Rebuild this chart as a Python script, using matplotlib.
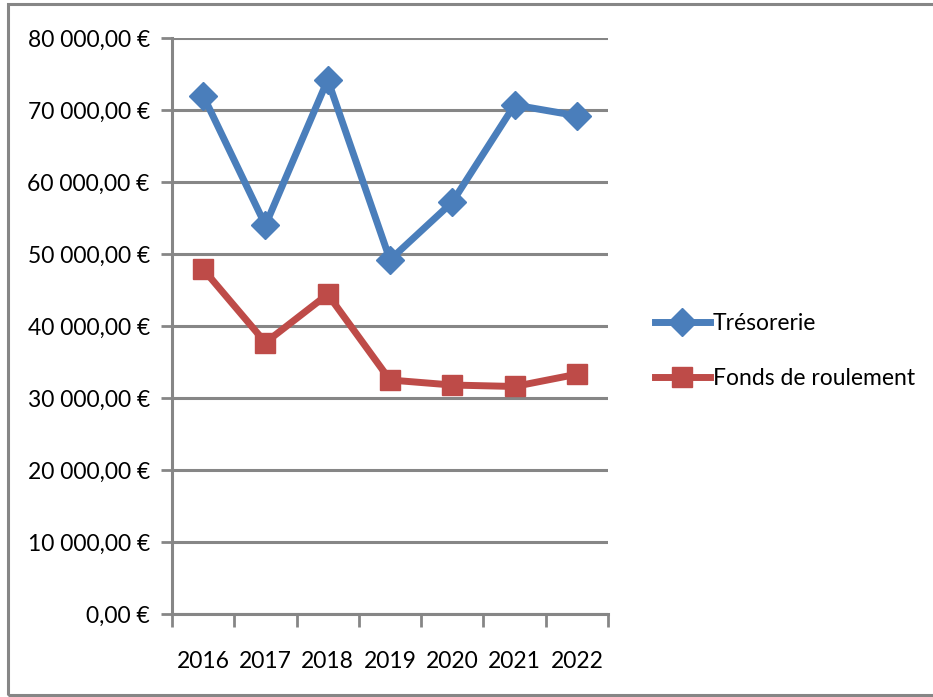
import matplotlib.pyplot as plt
from matplotlib.patches import Rectangle

annees = ["2016", "2017", "2018", "2019", "2020", "2021", "2022"]
tresorerie = [72000, 54000, 74200, 49200, 57200, 70700, 69200]
fonds_roulement = [47900, 37700, 44400, 32500, 31800, 31600, 33300]
yticks = [0, 10000, 20000, 30000, 40000, 50000, 60000, 70000, 80000]

plt.rcParams["font.family"] = ["Lato", "DejaVu Sans"]
taille = 16.5

def euro(v):
    s = f"{v:,.2f}".replace(",", " ").replace(".", ",")
    return s + " €"

fig = plt.figure(figsize=(9.33, 6.97), dpi=100)
ax = fig.add_axes([172 / 933, 1 - 614 / 697, (608 - 172) / 933, (614 - 38) / 697])

gris = "#868686"
x = range(len(annees))
ax.plot(x, tresorerie, color="#4A7EBB", lw=5, marker="D", ms=14,
        mec="#4A7EBB", label="Trésorerie")
ax.plot(x, fonds_roulement, color="#BE4B48", lw=5, marker="s", ms=14,
        mec="#BE4B48", label="Fonds de roulement")

ax.set_ylim(0, 80000)
ax.set_xlim(-0.5, len(annees) - 0.5)
ax.set_yticks(yticks)
ax.set_yticklabels([euro(v) for v in yticks], fontsize=taille)
# ticks between categories, labels centred on them
ax.set_xticks([i - 0.5 for i in range(len(annees) + 1)])
ax.set_xticklabels([])
ax.set_xticks(list(x), minor=True)
ax.set_xticklabels(annees, minor=True, fontsize=taille)
ax.tick_params(axis="x", which="major", length=9, width=2, color=gris, direction="out")
ax.tick_params(axis="x", which="minor", length=0, pad=27)
ax.tick_params(axis="y", length=8, width=2, color=gris, pad=8)
ax.grid(axis="y", color=gris, lw=2.2)
ax.set_axisbelow(True)
for cote in ["top", "right"]:
    ax.spines[cote].set_visible(False)
for cote in ["left", "bottom"]:
    ax.spines[cote].set_color(gris)
    ax.spines[cote].set_linewidth(2.2)

fig.legend(loc="center left", bbox_to_anchor=(634 / 933, 1 - 351 / 697),
           frameon=False, fontsize=taille, handlelength=2.4, labelspacing=1.45,
           handletextpad=0.15)

# chart frame, its right edge lies outside the image
fig.patches.append(Rectangle((8 / 933, 2 / 697), 940 / 933, 691 / 697,
                             transform=fig.transFigure, fill=False,
                             edgecolor=gris, lw=2.2))

fig.savefig("out.png", dpi=100)
